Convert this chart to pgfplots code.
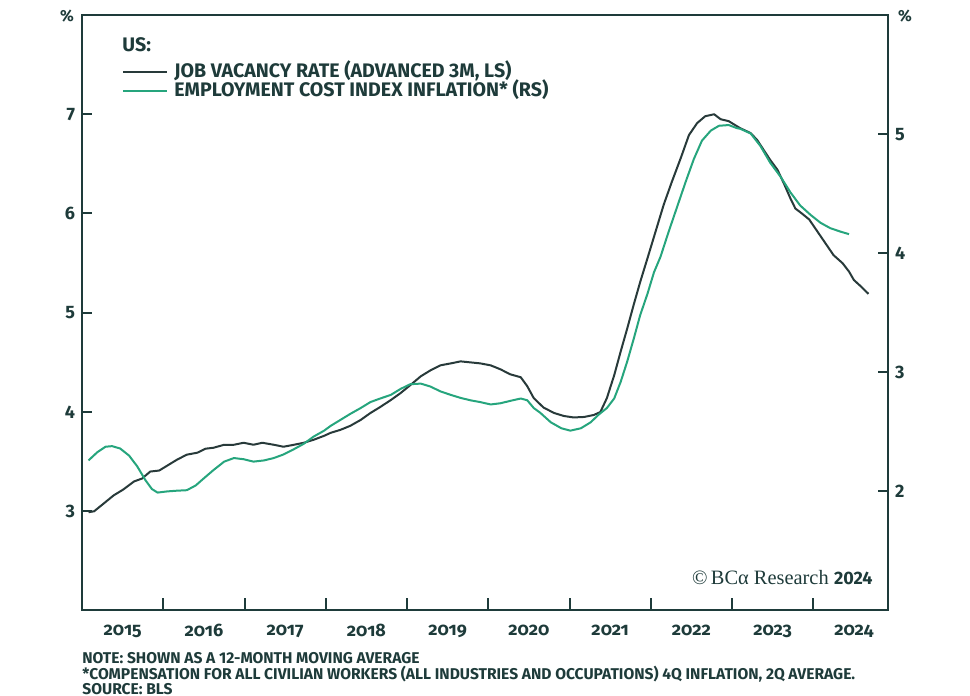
\documentclass[border=0pt]{standalone}
\usepackage{pgfplots}
\pgfplotsset{compat=1.18}
\usepackage{fontspec}
\setmainfont{Fira Sans}
\newfontfamily\osf{Fira Sans}[Numbers=OldStyle]
\newfontfamily\logofont{Liberation Serif}

\definecolor{ink}{HTML}{1E3B3A}
\definecolor{vac}{HTML}{283A3A}
\definecolor{eci}{HTML}{26A57D}

% shared frame for the two overlaid axes
\pgfplotsset{
  bca/.style={
    width=403pt, height=297.75pt, scale only axis,
    at={(0,0)}, anchor=south west,
    xmin=2015, xmax=2024.92,
    axis line style={ink, line width=1pt},
    tick style={ink, line width=1pt},
    tick align=inside,
    major tick length=5pt,
    ticklabel style={font=\bfseries\fontsize{9}{10}\selectfont, text=ink},
    /pgf/number format/assume math mode=true,
  }
}

\begin{document}
\begin{tikzpicture}[x=0.5pt,y=0.5pt]

% left scale: job vacancy rate
\begin{axis}[bca,
  ymin=2, ymax=8, ytick={3,4,5,6,7}, ytick pos=left,
  xtick={2015.5,2016.5,2017.5,2018.5,2019.5,2020.5,2021.5,2022.5,2023.5,2024.5},
  xticklabels={2015,2016,2017,2018,2019,2020,2021,2022,2023,2024},
  xticklabel style={font=\osf\bfseries\fontsize{9}{10}\selectfont, yshift=-3.5pt},
  major x tick style={draw=none},
  minor xtick={2016,2017,2018,2019,2020,2021,2022,2023,2024},
  minor tick length=6pt,
  xtick pos=bottom,
]
\addplot[vac, line width=1pt, line join=round] coordinates {
  (2015.08,2.99) (2015.15,3.00) (2015.27,3.08) (2015.39,3.16) (2015.51,3.22)
  (2015.64,3.30) (2015.74,3.33) (2015.84,3.40) (2015.95,3.41) (2016.05,3.46)
  (2016.17,3.52) (2016.29,3.57) (2016.42,3.59) (2016.52,3.63) (2016.62,3.64)
  (2016.75,3.67) (2016.87,3.67) (2016.99,3.69) (2017.11,3.67) (2017.22,3.69)
  (2017.36,3.67) (2017.48,3.65) (2017.61,3.67) (2017.73,3.69) (2017.85,3.72)
  (2017.98,3.76) (2018.06,3.79) (2018.18,3.82) (2018.30,3.86) (2018.43,3.92)
  (2018.55,3.99) (2018.67,4.05) (2018.80,4.12) (2018.92,4.19) (2019.04,4.27)
  (2019.17,4.36) (2019.29,4.42) (2019.41,4.47) (2019.54,4.49) (2019.66,4.51)
  (2019.78,4.50) (2019.90,4.49) (2020.03,4.47) (2020.15,4.43) (2020.27,4.38)
  (2020.40,4.35) (2020.48,4.26) (2020.56,4.14) (2020.68,4.045) (2020.81,3.99)
  (2020.93,3.96) (2021.05,3.945) (2021.18,3.95) (2021.30,3.97) (2021.38,4.00)
  (2021.46,4.14) (2021.55,4.37) (2021.63,4.61) (2021.71,4.84) (2021.79,5.08)
  (2021.87,5.31) (2021.96,5.55) (2022.06,5.82) (2022.16,6.09) (2022.26,6.32)
  (2022.37,6.56) (2022.47,6.79) (2022.57,6.91) (2022.67,6.98) (2022.78,7.00)
  (2022.86,6.95) (2022.96,6.93) (2023.06,6.88) (2023.10,6.86) (2023.23,6.81)
  (2023.31,6.74) (2023.39,6.64) (2023.47,6.54) (2023.56,6.44) (2023.64,6.30)
  (2023.72,6.15) (2023.78,6.05) (2023.86,6.00) (2023.95,5.94) (2024.05,5.82)
  (2024.15,5.70) (2024.25,5.58) (2024.36,5.50) (2024.44,5.415) (2024.50,5.33)
  (2024.58,5.27) (2024.68,5.19)
};
\end{axis}

% right scale: ECI inflation
\begin{axis}[bca,
  ymin=1, ymax=6, ytick={2,3,4,5}, ytick pos=right,
  hide x axis, xtick=\empty,
  legend cell align=left,
  legend image code/.code={\draw[#1] (0pt,0pt) -- (22pt,0pt);},
  legend style={draw=none, fill=none, at={(0.0496,0.888)}, anchor=west,
    font=\bfseries\fontsize{9.8}{10}\selectfont, text=ink,
    inner sep=0pt, row sep=2pt, column sep=3pt,
    nodes={inner sep=0pt, text height=6.5pt, text depth=1pt}},
]
\addlegendimage{vac, line width=1pt}
\addlegendentry{JOB VACANCY RATE (ADVANCED 3M, LS)}
\addplot[eci, line width=1pt, line join=round] coordinates {
  (2015.08,2.26) (2015.19,2.33) (2015.29,2.375) (2015.37,2.38) (2015.47,2.36)
  (2015.58,2.30) (2015.68,2.21) (2015.78,2.095) (2015.86,2.02) (2015.93,1.99)
  (2016.05,2.00) (2016.17,2.006) (2016.29,2.01) (2016.40,2.05) (2016.50,2.11)
  (2016.62,2.18) (2016.75,2.25) (2016.87,2.28) (2016.99,2.27) (2017.11,2.25)
  (2017.24,2.26) (2017.36,2.28) (2017.48,2.31) (2017.61,2.355) (2017.73,2.40)
  (2017.85,2.46) (2017.98,2.51) (2018.06,2.55) (2018.18,2.60) (2018.30,2.65)
  (2018.43,2.70) (2018.55,2.75) (2018.67,2.78) (2018.80,2.81) (2018.92,2.86)
  (2019.04,2.90) (2019.17,2.905) (2019.29,2.88) (2019.41,2.84) (2019.54,2.81)
  (2019.66,2.785) (2019.78,2.765) (2019.90,2.75) (2020.03,2.73) (2020.15,2.74)
  (2020.27,2.76) (2020.40,2.78) (2020.48,2.765) (2020.56,2.70) (2020.64,2.66)
  (2020.77,2.58) (2020.90,2.53) (2021.01,2.51) (2021.14,2.53) (2021.26,2.58)
  (2021.36,2.645) (2021.46,2.70) (2021.55,2.78) (2021.63,2.92) (2021.71,3.09)
  (2021.79,3.28) (2021.87,3.48) (2021.96,3.66) (2022.04,3.84) (2022.12,3.97)
  (2022.22,4.18) (2022.33,4.40) (2022.43,4.60) (2022.53,4.79) (2022.63,4.945)
  (2022.74,5.03) (2022.84,5.07) (2022.96,5.076) (2023.06,5.05) (2023.10,5.045)
  (2023.23,5.005) (2023.35,4.90) (2023.47,4.76) (2023.60,4.64) (2023.72,4.51)
  (2023.84,4.40) (2023.97,4.32) (2024.09,4.255) (2024.21,4.21) (2024.34,4.18)
  (2024.44,4.16)
};
\addlegendentry{EMPLOYMENT COST INDEX INFLATION* (RS)}
\end{axis}

% texts around the frame, in pixels from its lower left corner
\node[text=ink, font=\bfseries\fontsize{8}{9}\selectfont] at (-15,594) {\%};
\node[text=ink, font=\bfseries\fontsize{8}{9}\selectfont] at (823,594) {\%};
\node[anchor=west, inner sep=0pt, text=ink, font=\bfseries\fontsize{9.8}{10}\selectfont] at (40,565.5) {US:};
\node[anchor=base east, inner sep=0pt, text=ink] at (791,25.5)
  {{\logofont\fontsize{10.2}{12}\selectfont ©\,BCα Research} {\bfseries\fontsize{9}{10}\selectfont 2024}};
\node[anchor=base west, inner sep=0pt, text=ink, font=\bfseries\fontsize{7.8}{8}\selectfont] at (0,-53)
  {NOTE: SHOWN AS A 12-MONTH MOVING AVERAGE};
\node[anchor=base west, inner sep=0pt, text=ink, font=\bfseries\fontsize{7.8}{8}\selectfont] at (0,-69)
  {*COMPENSATION FOR ALL CIVILIAN WORKERS (ALL INDUSTRIES AND OCCUPATIONS) 4Q INFLATION, 2Q AVERAGE.};
\node[anchor=base west, inner sep=0pt, text=ink, font=\bfseries\fontsize{7.8}{8}\selectfont] at (0,-84)
  {SOURCE: BLS};

\pgfresetboundingbox
\path[use as bounding box] (-82,-85.5) rectangle (888,610.5);
\end{tikzpicture}
\end{document}
